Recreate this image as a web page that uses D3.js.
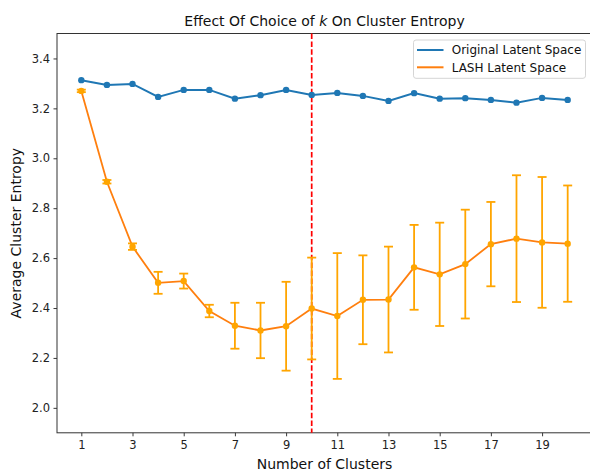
<!DOCTYPE html>
<html>
<head>
<meta charset="utf-8">
<script src="https://cdn.jsdelivr.net/npm/d3@7.9.0/dist/d3.min.js"></script>
<style>
  body { margin: 0; background: #fff; }
  svg { display: block; font-family: "DejaVu Sans", sans-serif; }
</style>
</head>
<body>
<svg id="chart" width="590" height="473"></svg>
<script>
const clusters = [1, 2, 3, 4, 5, 6, 7, 8, 9, 10, 11, 12, 13, 14, 15, 16, 17, 18, 19, 20];
const originalEntropy = [3.313, 3.294, 3.298, 3.246, 3.274, 3.274, 3.239, 3.253, 3.274, 3.254,
                         3.262, 3.250, 3.230, 3.261, 3.239, 3.241, 3.234, 3.223, 3.242, 3.234];
const lashEntropy = [3.270, 2.906, 2.646, 2.501, 2.508, 2.388, 2.329, 2.310, 2.327, 2.398,
                     2.368, 2.433, 2.434, 2.563, 2.535, 2.576, 2.656, 2.678, 2.663, 2.658];
const lashErr = [0.005, 0.007, 0.013, 0.044, 0.030, 0.025, 0.092, 0.111, 0.178, 0.204,
                 0.252, 0.178, 0.212, 0.170, 0.207, 0.218, 0.169, 0.254, 0.262, 0.233];
const xTicks = [1, 3, 5, 7, 9, 11, 13, 15, 17, 19];
const yTicks = [2.0, 2.2, 2.4, 2.6, 2.8, 3.0, 3.2, 3.4];
const chosenK = 10;
const seriesNames = ['Original Latent Space', 'LASH Latent Space'];

const svg = d3.select('#chart');
const plotLeft = 57, plotRight = 592, plotTop = 33.5, plotBottom = 432.8;

const x = d3.scaleLinear().domain([0.05, 20.95]).range([plotLeft, plotRight]);
const y = d3.scaleLinear().domain([1.9, 3.5]).range([plotBottom, plotTop]);

// axes
const xAxis = svg.append('g')
    .attr('transform', `translate(0,${plotBottom})`)
    .call(d3.axisBottom(x).tickValues(xTicks).tickFormat(d3.format('d')).tickSize(3.5).tickPadding(4.5));
const yAxis = svg.append('g')
    .attr('transform', `translate(${plotLeft},0)`)
    .call(d3.axisLeft(y).tickValues(yTicks).tickFormat(d3.format('.1f')).tickSize(3.5).tickPadding(3.5));
[xAxis, yAxis].forEach(g => {
    g.select('.domain').remove();
    g.selectAll('line').attr('stroke', '#222').attr('stroke-width', 0.9);
    g.selectAll('text').attr('font-family', 'DejaVu Sans').attr('font-size', 11.5).attr('fill', '#222');
});

// frame
svg.append('rect')
    .attr('x', plotLeft).attr('y', plotTop)
    .attr('width', plotRight - plotLeft).attr('height', plotBottom - plotTop)
    .attr('fill', 'none').attr('stroke', '#333').attr('stroke-width', 1);

// chosen k
svg.append('line')
    .attr('x1', x(chosenK)).attr('x2', x(chosenK))
    .attr('y1', plotTop).attr('y2', plotBottom)
    .attr('stroke', '#ff0000').attr('stroke-width', 1.7)
    .attr('stroke-dasharray', '5.5,2.4');

// original series
const line = d3.line().x((d, i) => x(clusters[i])).y(d => y(d));
svg.append('path')
    .attr('d', line(originalEntropy))
    .attr('fill', 'none').attr('stroke', '#1f77b4').attr('stroke-width', 2);
svg.selectAll('.orig-pt').data(originalEntropy).join('circle')
    .attr('class', 'orig-pt')
    .attr('cx', (d, i) => x(clusters[i])).attr('cy', d => y(d))
    .attr('r', 3.2).attr('fill', '#1f77b4');

// lash series
svg.append('path')
    .attr('d', line(lashEntropy))
    .attr('fill', 'none').attr('stroke', '#ff7f0e').attr('stroke-width', 1.8);

const errG = svg.append('g').attr('stroke', '#ffa500').attr('stroke-width', 1.8);
lashEntropy.forEach((d, i) => {
    const cx = x(clusters[i]);
    const y0 = y(d - lashErr[i]), y1 = y(d + lashErr[i]);
    errG.append('line').attr('x1', cx).attr('x2', cx).attr('y1', y0).attr('y2', y1);
    errG.append('line').attr('x1', cx - 4.5).attr('x2', cx + 4.5).attr('y1', y0).attr('y2', y0);
    errG.append('line').attr('x1', cx - 4.5).attr('x2', cx + 4.5).attr('y1', y1).attr('y2', y1);
});
svg.selectAll('.lash-pt').data(lashEntropy).join('circle')
    .attr('class', 'lash-pt')
    .attr('cx', (d, i) => x(clusters[i])).attr('cy', d => y(d))
    .attr('r', 3.2).attr('fill', '#ffa500');

// title and labels
const title = svg.append('text')
    .attr('x', (plotLeft + plotRight) / 2).attr('y', 25.7)
    .attr('text-anchor', 'middle').attr('font-size', 14).attr('fill', '#111');
title.append('tspan').text('Effect Of Choice of ');
title.append('tspan').attr('font-style', 'italic').text('k');
title.append('tspan').text(' On Cluster Entropy');

svg.append('text')
    .attr('x', (plotLeft + plotRight) / 2).attr('y', 469.3)
    .attr('text-anchor', 'middle').attr('font-size', 14).attr('fill', '#111')
    .text('Number of Clusters');
svg.append('text')
    .attr('transform', `translate(21,${(plotTop + plotBottom) / 2}) rotate(-90)`)
    .attr('text-anchor', 'middle').attr('font-size', 14).attr('fill', '#111')
    .text('Average Cluster Entropy');

// legend
const legend = svg.append('g');
legend.append('rect')
    .attr('x', 413.5).attr('y', 40).attr('width', 172).attr('height', 38.3).attr('rx', 2.5)
    .attr('fill', '#fff').attr('fill-opacity', 0.8).attr('stroke', '#d5d5d5').attr('stroke-width', 1);
const legendColors = ['#1f77b4', '#ff7f0e'];
seriesNames.forEach((name, i) => {
    const ly = 50 + i * 17.3;
    legend.append('line')
        .attr('x1', 417).attr('x2', 443.5).attr('y1', ly).attr('y2', ly)
        .attr('stroke', legendColors[i]).attr('stroke-width', 2);
    legend.append('text')
        .attr('x', 451.7).attr('y', ly + 4.3)
        .attr('font-size', 12).attr('fill', '#111')
        .text(name);
});
</script>
</body>
</html>
